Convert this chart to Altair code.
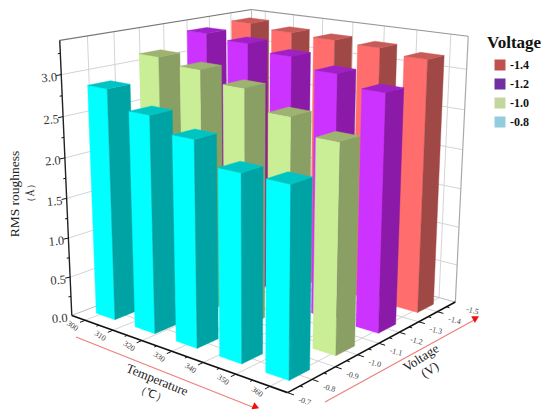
import numpy as np
import pandas as pd
import altair as alt

# ---- data ----
temperatures = [302, 316, 330, 344, 358]
voltages = [-1.4, -1.2, -1.0, -0.8]
rough_m14 = [3.33, 3.28, 3.26, 3.24, 3.18]
rough_m12 = [3.30, 3.25, 3.17, 3.05, 2.92]
rough_m10 = [3.12, 3.05, 2.92, 2.69, 2.51]
rough_m08 = [2.86, 2.65, 2.48, 2.22, 2.22]
roughness = [rough_m14, rough_m12, rough_m10, rough_m08]
legend_labels = ["-1.4", "-1.2", "-1.0", "-0.8"]
legend_colors = ["#C0504D", "#7030A0", "#C3D69B", "#93CDDD"]
temp_ticks = [300, 310, 320, 330, 340, 350, 360]
volt_ticks = [-0.7, -0.8, -0.9, -1.0, -1.1, -1.2, -1.3, -1.4, -1.5]
z_ticks = [0.0, 0.5, 1.0, 1.5, 2.0, 2.5, 3.0]

# face colours per series: front, side, top
face_colors = {
    -1.4: ("#FF6E6C", "#A04846", "#C85A58"),
    -1.2: ("#CC33FF", "#8B1AA8", "#A020C8"),
    -1.0: ("#C9EE96", "#8A9F64", "#9DB36F"),
    -0.8: ("#00FFFF", "#00A3A3", "#00C4C4"),
}
T0, T1, V0, V1, ZMAX = 295.0, 365.0, -0.7, -1.5, 3.4
BAR_T, BAR_V = 3.4, 0.043

# camera calibration of the 3D box: (T, V, Z) -> picture position
calib = [
    (295, -0.7, 0.0, 71, 314), (365, -0.7, 0.0, 287, 392), (365, -1.5, 0.0, 455, 303),
    (295, -0.7, 3.4, 60, 41), (295, -1.5, 3.4, 252, 10), (365, -1.5, 3.4, 468, 36),
    (295, -0.7, 3.0, 60.5, 75), (295, -0.7, 1.5, 66, 197),
    (365, -1.5, 3.0, 467, 69), (365, -1.5, 1.5, 461, 188),
    (330, -0.7, 0.0, 175, 354), (365, -1.1, 0.0, 378, 343),
]
def norm(t, v, z):
    return (t - T0) / (T1 - T0), (v - V0) / (V1 - V0), z / ZMAX
A, b = [], []
for t, v, z, u, w in calib:
    X, Y, Z = norm(t, v, z)
    A.append([X, Y, Z, 1, 0, 0, 0, 0, -u * X, -u * Y, -u * Z]); b.append(u)
    A.append([0, 0, 0, 0, X, Y, Z, 1, -w * X, -w * Y, -w * Z]); b.append(w)
P = np.append(np.linalg.lstsq(np.array(A, float), np.array(b, float), rcond=None)[0], 1).reshape(3, 4)
def proj(t, v, z):
    p = P @ np.array([*norm(t, v, z), 1.0])
    return float(p[0] / p[2]), float(p[1] / p[2])

# ---- tables ----
faces_rows = []
fn = 0
for v, row in zip(voltages, roughness):
    front, side, top = face_colors[v]
    for t, h in zip(temperatures, row):
        t0, t1 = t - BAR_T, t + BAR_T
        vf, vb = v + BAR_V, v - BAR_V
        for pts, col in (
            ([(t0, vf, 0), (t1, vf, 0), (t1, vf, h), (t0, vf, h)], front),
            ([(t1, vf, 0), (t1, vb, 0), (t1, vb, h), (t1, vf, h)], side),
            ([(t0, vf, h), (t1, vf, h), (t1, vb, h), (t0, vb, h)], top),
        ):
            for i, p in enumerate(pts + pts[:1]):
                x, y = proj(*p)
                faces_rows.append(dict(face=f"f{fn:03d}", i=i, x=x, y=y, c=col))
            fn += 1
df_faces = pd.DataFrame(faces_rows)

segs = []
def seg(a, b, color, w):
    (x, y), (x2, y2) = a, b
    segs.append(dict(x=x, y=y, x2=x2, y2=y2, c=color, w=w))
GRID = "#D4D4D4"
for z in z_ticks[1:]:
    seg(proj(T0, V0, z), proj(T0, V1, z), GRID, 1)
    seg(proj(T0, V1, z), proj(T1, V1, z), GRID, 1)
for v in volt_ticks[1:-1]:
    seg(proj(T0, v, 0), proj(T0, v, ZMAX), GRID, 1)
    seg(proj(T0, v, 0), proj(T1, v, 0), GRID, 1)
for t in temp_ticks:
    seg(proj(t, V1, 0), proj(t, V1, ZMAX), GRID, 1)
    seg(proj(t, V0, 0), proj(t, V1, 0), GRID, 1)
seg(proj(T0, V1, 0), proj(T0, V1, ZMAX), "#BBBBBB", 1)
seg(proj(T0, V1, 0), proj(T1, V1, 0), "#BBBBBB", 1)
seg(proj(T0, V1, 0), proj(T0, V0, 0), "#BBBBBB", 1)
seg(proj(T0, V0, ZMAX), proj(T0, V1, ZMAX), "#777777", 1.2)
seg(proj(T0, V1, ZMAX), proj(T1, V1, ZMAX), "#999999", 1.2)
seg(proj(T1, V1, 0), proj(T1, V1, ZMAX), "#AAAAAA", 1.2)
df_back = pd.DataFrame(segs)

segs = []
AX = "#111111"
seg(proj(T0, V0, 0), proj(T0, V0, ZMAX), "#222222", 1.4)
seg(proj(T0, V0, 0), proj(T1, V0, 0), AX, 1.6)
seg(proj(T1, V0, 0), proj(T1, V1, 0), AX, 1.6)
for z in np.arange(0.25, 3.3, 0.25):
    x, y = proj(T0, V0, float(z))
    L = 5 if abs(z * 2 - round(z * 2)) < 1e-6 else 2.5
    seg((x, y), (x - L, y + L * 0.2), AX, 1)
for t in np.arange(300, 365, 5):
    L = 0.02 if int(t) % 10 == 0 else 0.01
    seg(proj(float(t), V0, 0), proj(float(t), V0 + L, 0), AX, 1)
for v in np.arange(0.7, 1.5, 0.05):
    L = 1.8 if round(v * 100) % 10 == 0 else 0.9
    seg(proj(T1, -float(v), 0), proj(T1 + L, -float(v), 0), AX, 1)
df_axes = pd.DataFrame(segs)

ARROW = "#EE7F7C"
df_arrows = pd.DataFrame([
    dict(x=76, y=337, x2=255, y2=408, c=ARROW, w=1.2),
    dict(x=325, y=402, x2=476, y2=319, c=ARROW, w=1.2),
])
df_heads = pd.DataFrame([dict(x=256, y=407, a=112), dict(x=476, y=318, a=61)])

labels = []
TXT = "#333333"
for z in z_ticks:
    x, y = proj(T0, V0, z)
    labels.append(dict(t=f"{z:.1f}", x=x - 12, y=y + 3, a=355, s=12.5, c=TXT))
for t in temp_ticks:
    x, y = proj(t, V0, 0)
    labels.append(dict(t=str(t), x=x - 13, y=y + 6, a=35, s=8, c="#444444"))
for v in volt_ticks:
    x, y = proj(T1, v, 0)
    labels.append(dict(t=f"{v:.1f}", x=x + 17, y=y + 9, a=15, s=8, c="#444444"))
labels += [
    dict(t="RMS roughness", x=15, y=194, a=270, s=13.5, c="#222222"),
    dict(t="（Å）", x=31, y=193, a=270, s=10, c="#222222"),
    dict(t="Temperature", x=157, y=380, a=22, s=13, c="#222222"),
    dict(t="（℃）", x=151, y=394, a=22, s=11, c="#222222"),
    dict(t="Voltage", x=421, y=358, a=327, s=13, c="#222222"),
    dict(t="(V)", x=430, y=370, a=327, s=13, c="#222222"),
]
df_text = pd.DataFrame(labels)
df_legend = pd.DataFrame(dict(k=legend_labels))

# ---- chart: x/y scales span the page area of the picture ----
X = alt.Scale(domain=[8, 542], range=[0, 534])
Y = alt.Scale(domain=[412, 8], range=[404, 0])
ex = alt.X("x:Q", scale=X, axis=None)
ey = alt.Y("y:Q", scale=Y, axis=None)

def rules(df):
    return alt.Chart(df).mark_rule().encode(
        x=ex, y=ey, x2="x2:Q", y2="y2:Q",
        color=alt.Color("c:N", scale=None, legend=None),
        strokeWidth=alt.StrokeWidth("w:Q", scale=None, legend=None),
    )

bars = alt.Chart(df_faces).mark_line(strokeWidth=0.4, interpolate="linear").encode(
    x=ex, y=ey,
    detail="face:N",
    order="i:Q",
    fill=alt.Fill("c:N", scale=None, legend=None),
    stroke=alt.Stroke("c:N", scale=None, legend=None),
)
heads = alt.Chart(df_heads).mark_point(shape="triangle-up", filled=True, size=60, color="#F01010", opacity=1).encode(
    x=ex, y=ey, angle=alt.Angle("a:Q", scale=None),
)
text = alt.Chart(df_text).mark_text(font="Liberation Serif", baseline="middle", align="center").encode(
    x=ex, y=ey, text="t:N",
    angle=alt.Angle("a:Q", scale=None),
    size=alt.Size("s:Q", scale=None, legend=None),
    color=alt.Color("c:N", scale=None, legend=None),
)
legend = alt.Chart(df_legend).mark_square(size=0).encode(
    fill=alt.Fill("k:N", sort=None,
        scale=alt.Scale(domain=legend_labels, range=legend_colors),
        legend=alt.Legend(
            title="Voltage", orient="none", legendX=479, legendY=27,
            titleFont="Liberation Serif", titleFontSize=17, titleFontWeight="bold", titleColor="#111111",
            labelFont="Liberation Serif", labelFontSize=12, labelFontWeight="bold", labelColor="#111111",
            symbolType="square", symbolSize=121, symbolStrokeWidth=0, symbolOpacity=1,
            symbolOffset=7, rowPadding=7, labelOffset=4, offset=0, titlePadding=7,
        )),
)

chart = alt.layer(
    rules(df_back), bars, rules(df_axes), rules(df_arrows), heads, text, legend
).resolve_scale(fill="independent").properties(
    width=534, height=404, padding=0, autosize=alt.AutoSizeParams(type="none"),
).configure_view(stroke=None)

chart.save("out.html", embed_options={"renderer": "svg", "actions": False})
